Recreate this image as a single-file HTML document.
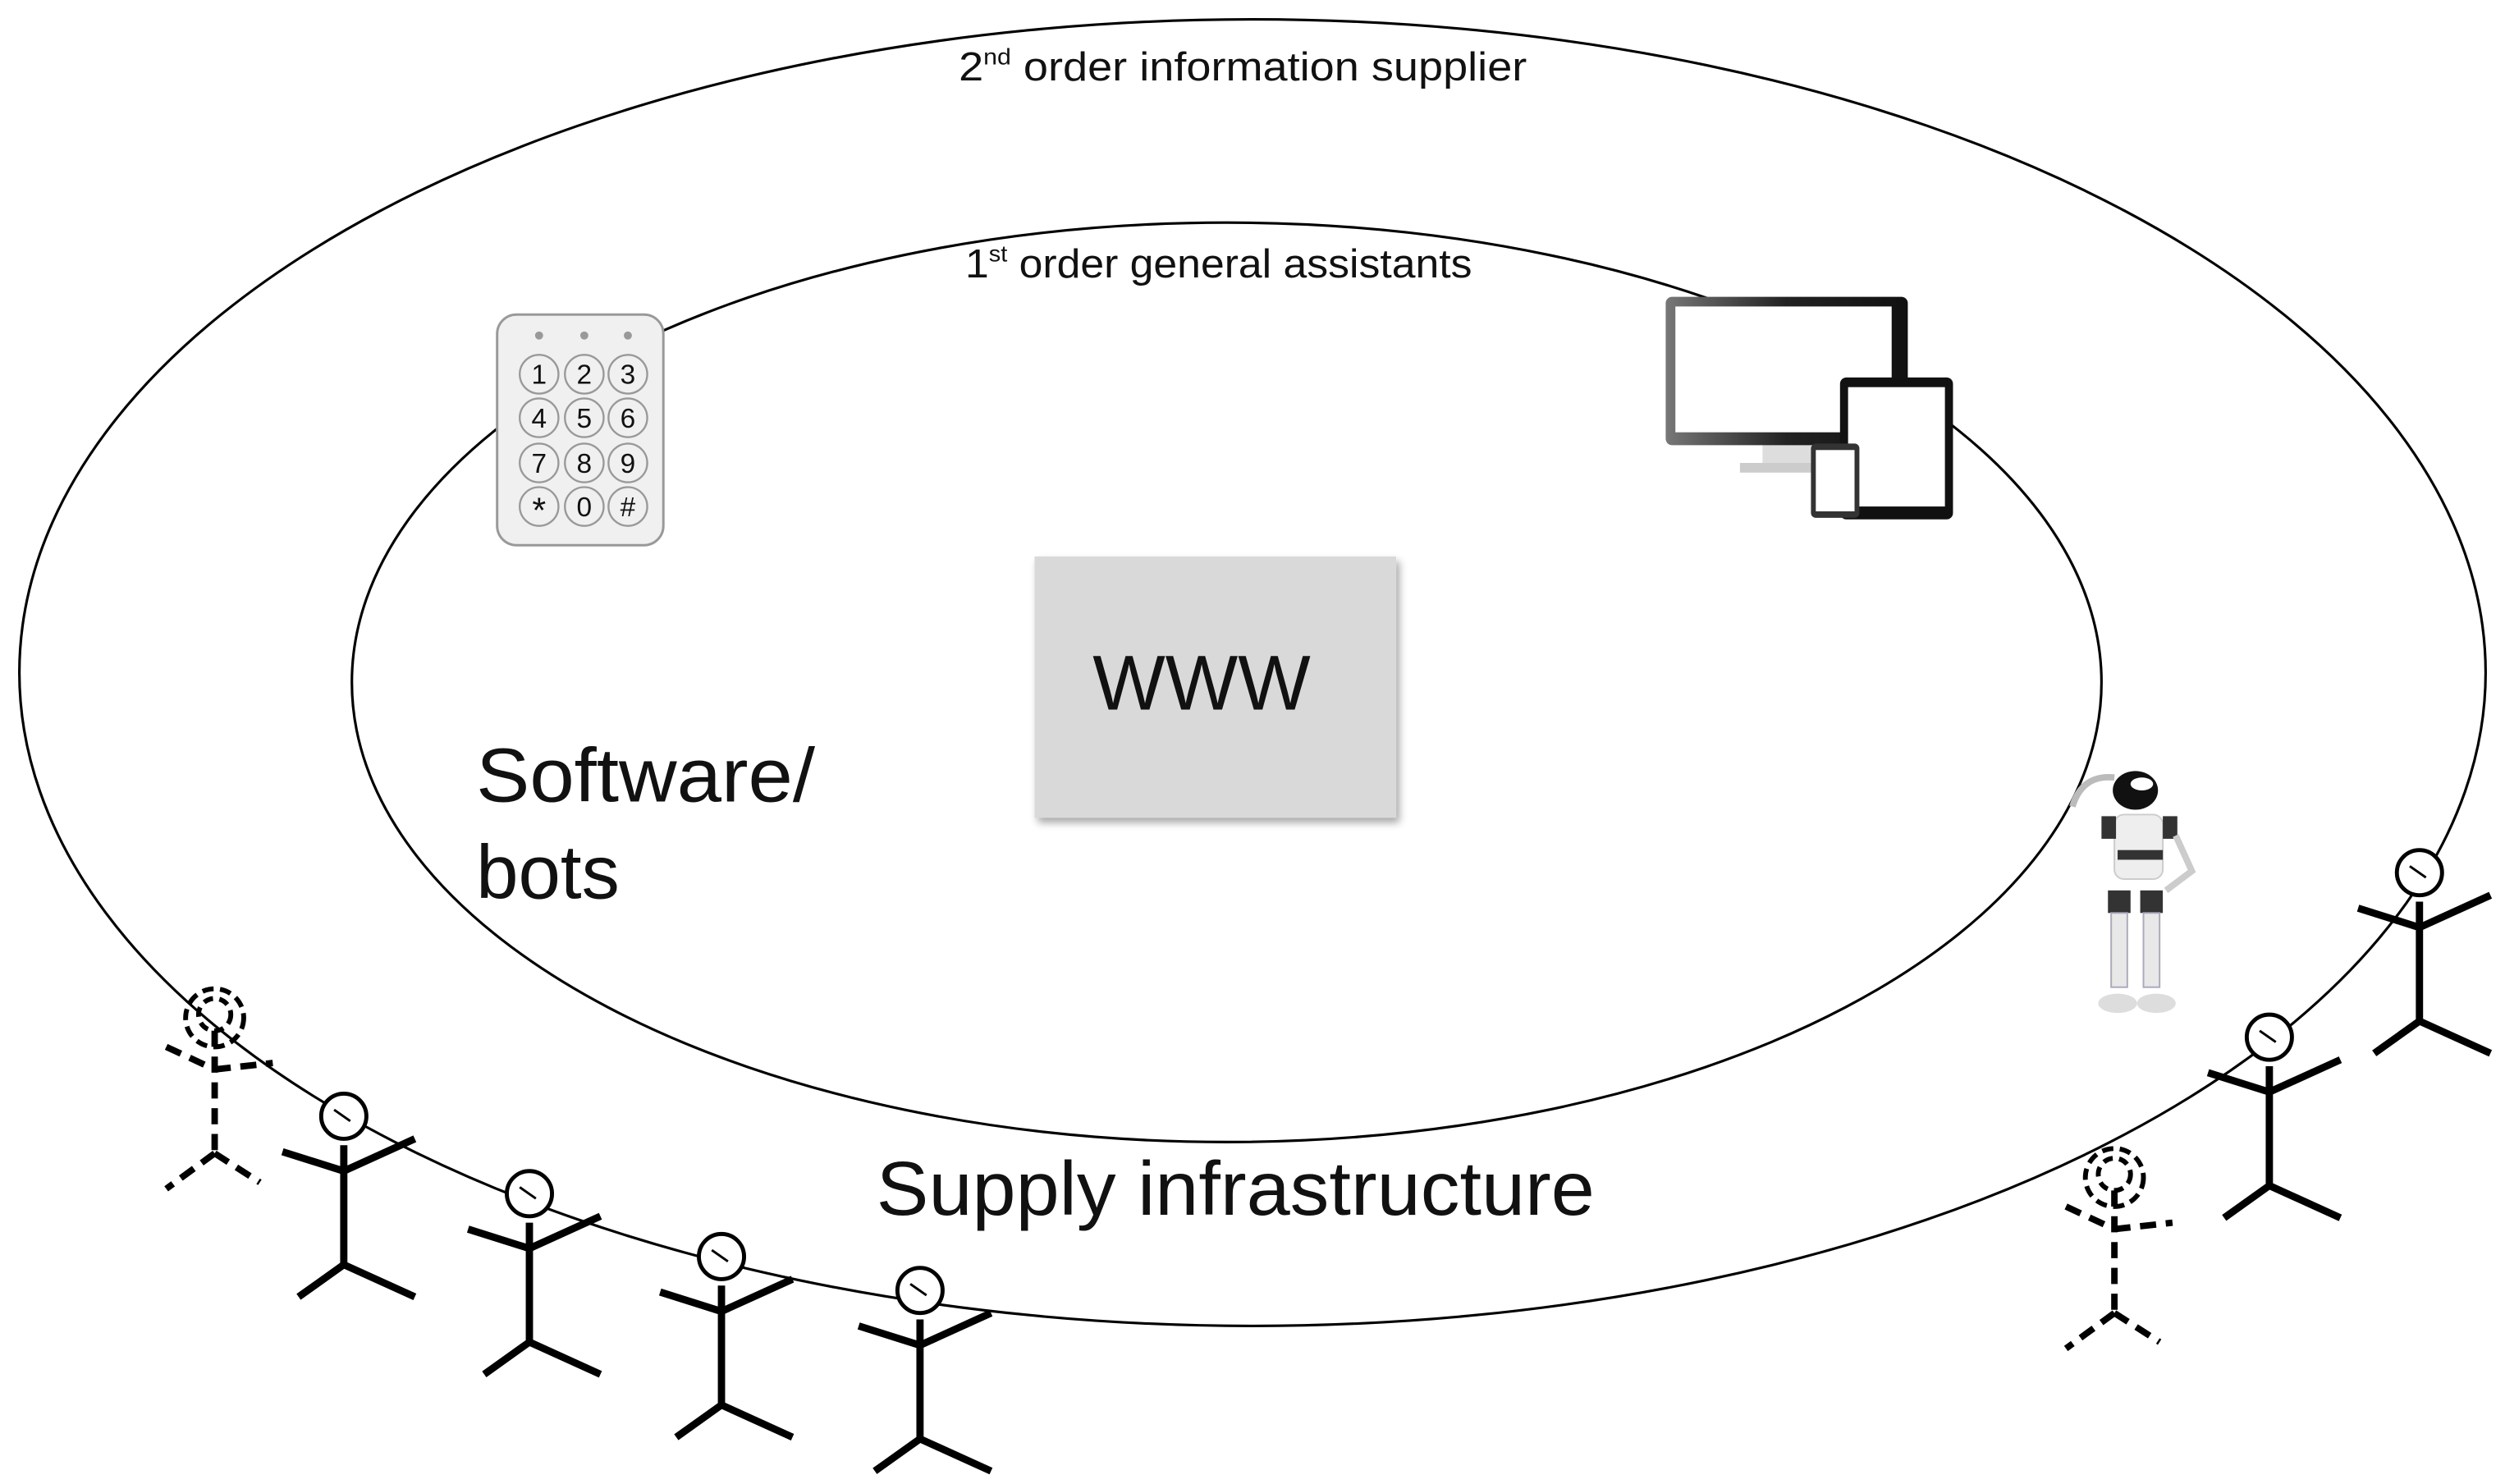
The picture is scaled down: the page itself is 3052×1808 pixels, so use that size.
<!DOCTYPE html>
<html><head><meta charset="utf-8"><style>
html,body{margin:0;padding:0;background:#fff;}
svg{display:block;}
text{font-family:"Liberation Sans","DejaVu Sans",sans-serif;fill:#111;}
</style></head><body>
<svg width="3052" height="1808" viewBox="0 0 1552 920" preserveAspectRatio="none" xmlns="http://www.w3.org/2000/svg">
<defs>
<filter id="sh" x="-10%" y="-10%" width="130%" height="130%"><feDropShadow dx="2" dy="3" stdDeviation="2.5" flood-color="#000" flood-opacity="0.35"/></filter>
<linearGradient id="mg" x1="0" x2="1"><stop offset="0" stop-color="#777"/><stop offset="0.5" stop-color="#222"/><stop offset="1" stop-color="#111"/></linearGradient>
<g id="fig" stroke="#000" stroke-width="4.5" fill="none" stroke-linecap="butt">
<circle cx="0" cy="0" r="14" fill="#fff" stroke-width="2.5"/>
<line x1="-6" y1="-4" x2="4" y2="3" stroke-width="1.5"/>
<path d="M0 18 V92 M-38 22 L0 34 M0 34 L44 14 M0 92 L-28 112 M0 92 L44 112"/>
</g>
<g id="dfig" stroke="#000" stroke-width="4" fill="none" stroke-dasharray="9 6">
<circle cx="0" cy="0" r="18" stroke-width="3" stroke-dasharray="7 4"/>
<circle cx="0" cy="-2" r="10" stroke-width="3" stroke-dasharray="6 4"/>
<path d="M0 8 V84 M-30 18 L0 32 M0 32 L36 28 M0 84 L-30 106 M0 84 L28 102" stroke-dasharray="10 6"/>
</g>
</defs>

<ellipse cx="776" cy="417" rx="764" ry="405" fill="none" stroke="#000" stroke-width="1.6"/>
<ellipse cx="760" cy="423" rx="542" ry="285" fill="none" stroke="#000" stroke-width="1.6"/>

<text x="770" y="50" font-size="25" text-anchor="middle" textLength="352" lengthAdjust="spacingAndGlyphs">2<tspan font-size="14" dy="-10">nd</tspan><tspan dy="10"> order information supplier</tspan></text>
<text x="755" y="172" font-size="25" text-anchor="middle" textLength="314" lengthAdjust="spacingAndGlyphs">1<tspan font-size="14" dy="-10">st</tspan><tspan dy="10"> order general assistants</tspan></text>

<rect x="641" y="345" width="224" height="162" fill="#d9d9d9" filter="url(#sh)"/>
<text x="677" y="440" font-size="48" textLength="135" lengthAdjust="spacingAndGlyphs">WWW</text>

<text x="295" y="497" font-size="47" textLength="210" lengthAdjust="spacingAndGlyphs">Software/</text>
<text x="295" y="557" font-size="47">bots</text>
<text x="543" y="753" font-size="47" textLength="445" lengthAdjust="spacingAndGlyphs">Supply infrastructure</text>

<!-- keypad -->
<g>
<rect x="308" y="195" width="103" height="143" rx="12" fill="#f0f0f0" stroke="#999" stroke-width="1.5"/>
<circle cx="334" cy="208" r="2.5" fill="#999"/><circle cx="362" cy="208" r="2.5" fill="#999"/><circle cx="389" cy="208" r="2.5" fill="#999"/>
<g fill="none" stroke="#999" stroke-width="1.2">
<circle cx="334" cy="232" r="12"/><circle cx="362" cy="232" r="12"/><circle cx="389" cy="232" r="12"/>
<circle cx="334" cy="259" r="12"/><circle cx="362" cy="259" r="12"/><circle cx="389" cy="259" r="12"/>
<circle cx="334" cy="287" r="12"/><circle cx="362" cy="287" r="12"/><circle cx="389" cy="287" r="12"/>
<circle cx="334" cy="314" r="12"/><circle cx="362" cy="314" r="12"/><circle cx="389" cy="314" r="12"/>
</g>
<g font-size="17" text-anchor="middle" style="fill:#333">
<text x="334" y="238">1</text><text x="362" y="238">2</text><text x="389" y="238">3</text>
<text x="334" y="265">4</text><text x="362" y="265">5</text><text x="389" y="265">6</text>
<text x="334" y="293">7</text><text x="362" y="293">8</text><text x="389" y="293">9</text>
<text x="334" y="324" font-size="22">*</text><text x="362" y="320">0</text><text x="389" y="320">#</text>
</g>
</g>

<!-- devices -->
<g>
<rect x="1092" y="275" width="30" height="14" fill="#ddd"/>
<rect x="1078" y="287" width="58" height="6" fill="#ccc"/>
<rect x="1032" y="184" width="150" height="92" rx="4" fill="url(#mg)"/>
<rect x="1038" y="190" width="134" height="78" fill="#fff"/>
<rect x="1140" y="234" width="70" height="88" rx="4" fill="#111"/>
<rect x="1145" y="240" width="60" height="74" fill="#fff"/>
<rect x="1122" y="275" width="30" height="46" rx="3" fill="#333"/>
<rect x="1125" y="279" width="24" height="38" fill="#fff"/>
</g>

<!-- robot -->
<g>
<path d="M1284 500 Q1290 480 1310 482" stroke="#bbb" stroke-width="4" fill="none"/>
<ellipse cx="1323" cy="490" rx="14" ry="12" fill="#111"/>
<ellipse cx="1327" cy="486" rx="7" ry="4" fill="#fff"/>
<rect x="1310" y="505" width="30" height="40" rx="6" fill="#eee" stroke="#ccc"/>
<rect x="1302" y="506" width="9" height="14" fill="#333"/><rect x="1340" y="506" width="9" height="14" fill="#333"/>
<rect x="1312" y="527" width="28" height="6" fill="#333"/>
<path d="M1348 518 L1358 540 L1342 552" stroke="#ccc" stroke-width="4" fill="none"/>
<rect x="1306" y="552" width="14" height="14" fill="#333"/><rect x="1326" y="552" width="14" height="14" fill="#333"/>
<rect x="1308" y="566" width="10" height="46" fill="#e8e8e8" stroke="#aab" stroke-width="1"/>
<rect x="1328" y="566" width="10" height="46" fill="#e8e8e8" stroke="#aab" stroke-width="1"/>
<ellipse cx="1312" cy="622" rx="12" ry="6" fill="#ddd"/><ellipse cx="1336" cy="622" rx="12" ry="6" fill="#ddd"/>
</g>

<!-- stick figures -->
<use href="#dfig" x="133" y="631"/>
<use href="#fig" x="213" y="692"/>
<use href="#fig" x="328" y="740"/>
<use href="#fig" x="447" y="779"/>
<use href="#fig" x="570" y="800"/>
<use href="#dfig" x="1310" y="730"/>
<use href="#fig" x="1406" y="643"/>
<use href="#fig" x="1499" y="541"/>
</svg>
</body></html>
